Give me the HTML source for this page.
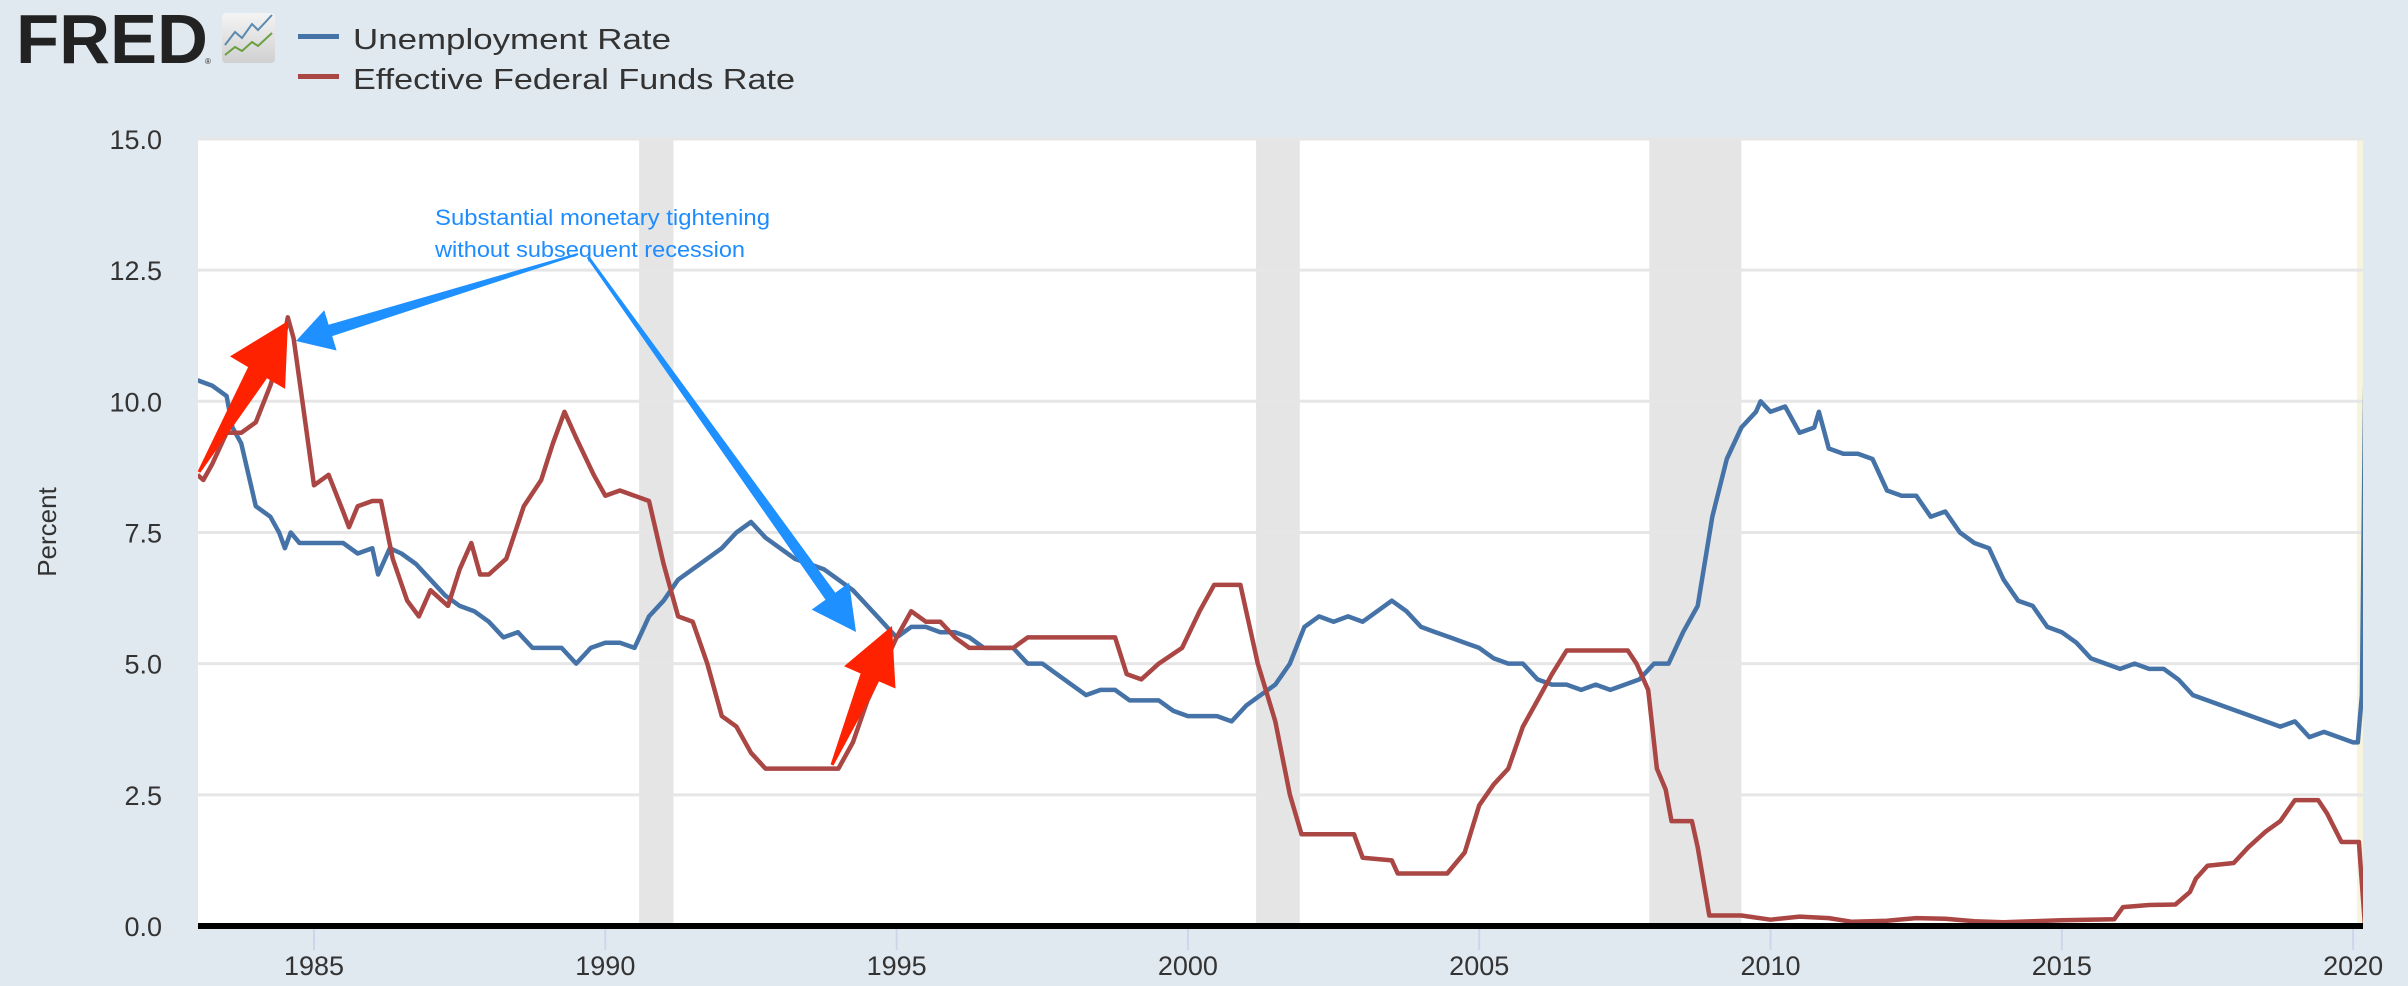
<!DOCTYPE html>
<html><head><meta charset="utf-8"><style>
html,body{margin:0;padding:0;background:#e1e9f0;}
svg{display:block;font-family:"Liberation Sans",sans-serif;}
</style></head><body>
<svg id="chart" width="2408" height="986" viewBox="0 0 2408 986">
<defs>
<clipPath id="plotclip"><rect x="198" y="138" width="2165" height="790"/></clipPath>
<linearGradient id="iconbg" x1="0" y1="0" x2="0" y2="1"><stop offset="0" stop-color="#f4f4f4"/><stop offset="1" stop-color="#d0d0d0"/></linearGradient>
</defs>
<rect x="0" y="0" width="2408" height="986" fill="#e1e9f0"/>
<g>
<text x="16" y="63" font-size="70" font-weight="bold" fill="#222" textLength="192" lengthAdjust="spacingAndGlyphs">FRED</text>
<text x="205" y="64" font-size="8" fill="#222">®</text>
<rect x="222" y="13" width="53" height="50" rx="4" fill="url(#iconbg)"/>
<polyline points="225,45 235,32 242,38 252,24 258,30 272,15" fill="none" stroke="#5a8ab0" stroke-width="2"/>
<polyline points="225,55 235,47 242,51 252,42 258,46 272,33" fill="none" stroke="#6aa040" stroke-width="2"/>
</g>
<g>
<rect x="298" y="34" width="41" height="5" fill="#4572a7"/>
<text x="353" y="49" font-size="29" fill="#333" textLength="318" lengthAdjust="spacingAndGlyphs">Unemployment Rate</text>
<rect x="298" y="74" width="41" height="5" fill="#aa4643"/>
<text x="353" y="89" font-size="29" fill="#333" textLength="442" lengthAdjust="spacingAndGlyphs">Effective Federal Funds Rate</text>
</g>
<rect x="198" y="138" width="2165" height="788" fill="#ffffff"/>
<g id="rec"></g>
<g id="grid"></g>
<g id="yticks"></g>
<g id="xticks"></g>
<text x="0" y="0" transform="translate(56,532) rotate(-90)" font-size="26" fill="#333" text-anchor="middle">Percent</text>
<g id="series" clip-path="url(#plotclip)"></g>
<rect x="198" y="923" width="2165" height="6" fill="#000"/>
<g id="annot">
<text x="435" y="225" font-size="22" fill="#1e8cff" textLength="335" lengthAdjust="spacingAndGlyphs">Substantial monetary tightening</text>
<text x="435" y="257" font-size="22" fill="#1e8cff" textLength="310" lengthAdjust="spacingAndGlyphs">without subsequent recession</text>
</g>
</svg>
<script>
const yTicks = [0, 2.5, 5, 7.5, 10, 12.5, 15];
const yTickLabels = ["0.0","2.5","5.0","7.5","10.0","12.5","15.0"];
const xTicks = [1985, 1990, 1995, 2000, 2005, 2010, 2015, 2020];
const recStart = [1990.58, 2001.17, 2007.92];
const recEnd = [1991.17, 2001.92, 2009.5];
const unrateDates = [1983.0,1983.25,1983.5,1983.6,1983.75,1984.0,1984.25,1984.4,1984.5,1984.6,1984.75,1985.0,1985.25,1985.5,1985.75,1986.0,1986.1,1986.3,1986.5,1986.75,1987.0,1987.25,1987.5,1987.75,1988.0,1988.25,1988.5,1988.75,1989.0,1989.25,1989.5,1989.75,1990.0,1990.25,1990.5,1990.75,1991.0,1991.25,1991.5,1991.75,1992.0,1992.25,1992.5,1992.75,1993.0,1993.25,1993.5,1993.75,1994.0,1994.25,1994.5,1994.75,1995.0,1995.25,1995.5,1995.75,1996.0,1996.25,1996.5,1996.75,1997.0,1997.25,1997.5,1997.75,1998.0,1998.25,1998.5,1998.75,1999.0,1999.25,1999.5,1999.75,2000.0,2000.25,2000.5,2000.75,2001.0,2001.25,2001.5,2001.75,2002.0,2002.25,2002.5,2002.75,2003.0,2003.25,2003.5,2003.75,2004.0,2004.25,2004.5,2004.75,2005.0,2005.25,2005.5,2005.75,2006.0,2006.25,2006.5,2006.75,2007.0,2007.25,2007.5,2007.75,2008.0,2008.25,2008.5,2008.75,2009.0,2009.25,2009.5,2009.75,2009.83,2010.0,2010.25,2010.5,2010.75,2010.83,2011.0,2011.25,2011.5,2011.75,2012.0,2012.25,2012.5,2012.75,2013.0,2013.25,2013.5,2013.75,2014.0,2014.25,2014.5,2014.75,2015.0,2015.25,2015.5,2015.75,2016.0,2016.25,2016.5,2016.75,2017.0,2017.25,2017.5,2017.75,2018.0,2018.25,2018.5,2018.75,2019.0,2019.25,2019.5,2019.75,2020.0,2020.08,2020.15,2020.25];
const unrateValues = [10.4,10.3,10.1,9.5,9.2,8.0,7.8,7.5,7.2,7.5,7.3,7.3,7.3,7.3,7.1,7.2,6.7,7.2,7.1,6.9,6.6,6.3,6.1,6.0,5.8,5.5,5.6,5.3,5.3,5.3,5.0,5.3,5.4,5.4,5.3,5.9,6.2,6.6,6.8,7.0,7.2,7.5,7.7,7.4,7.2,7.0,6.9,6.8,6.6,6.4,6.1,5.8,5.5,5.7,5.7,5.6,5.6,5.5,5.3,5.3,5.3,5.0,5.0,4.8,4.6,4.4,4.5,4.5,4.3,4.3,4.3,4.1,4.0,4.0,4.0,3.9,4.2,4.4,4.6,5.0,5.7,5.9,5.8,5.9,5.8,6.0,6.2,6.0,5.7,5.6,5.5,5.4,5.3,5.1,5.0,5.0,4.7,4.6,4.6,4.5,4.6,4.5,4.6,4.7,5.0,5.0,5.6,6.1,7.8,8.9,9.5,9.8,10.0,9.8,9.9,9.4,9.5,9.8,9.1,9.0,9.0,8.9,8.3,8.2,8.2,7.8,7.9,7.5,7.3,7.2,6.6,6.2,6.1,5.7,5.6,5.4,5.1,5.0,4.9,5.0,4.9,4.9,4.7,4.4,4.3,4.2,4.1,4.0,3.9,3.8,3.9,3.6,3.7,3.6,3.5,3.5,4.4,14.7];
const fedDates = [1983.0,1983.1,1983.25,1983.5,1983.75,1984.0,1984.25,1984.45,1984.55,1984.65,1984.8,1985.0,1985.25,1985.5,1985.6,1985.75,1986.0,1986.15,1986.35,1986.6,1986.8,1987.0,1987.3,1987.5,1987.7,1987.85,1988.0,1988.3,1988.6,1988.9,1989.1,1989.3,1989.5,1989.8,1990.0,1990.25,1990.5,1990.75,1991.0,1991.25,1991.5,1991.75,1992.0,1992.25,1992.5,1992.75,1993.0,1993.5,1993.75,1994.0,1994.25,1994.5,1994.75,1995.0,1995.25,1995.5,1995.75,1996.0,1996.25,1996.5,1997.0,1997.25,1997.5,1998.0,1998.5,1998.75,1998.95,1999.2,1999.5,1999.9,2000.2,2000.45,2000.9,2001.0,2001.2,2001.5,2001.75,2001.95,2002.5,2002.85,2003.0,2003.5,2003.6,2004.45,2004.75,2005.0,2005.25,2005.5,2005.75,2006.0,2006.25,2006.5,2007.0,2007.55,2007.7,2007.9,2008.05,2008.2,2008.3,2008.65,2008.75,2008.95,2009.25,2009.5,2010.0,2010.5,2011.0,2011.4,2012.0,2012.5,2013.0,2013.5,2014.0,2014.5,2015.0,2015.9,2016.05,2016.5,2016.95,2017.2,2017.3,2017.5,2017.95,2018.2,2018.5,2018.75,2019.0,2019.4,2019.55,2019.8,2020.1,2020.2];
const fedValues = [8.6,8.5,8.8,9.4,9.4,9.6,10.3,11.0,11.6,11.2,10.0,8.4,8.6,7.9,7.6,8.0,8.1,8.1,7.0,6.2,5.9,6.4,6.1,6.8,7.3,6.7,6.7,7.0,8.0,8.5,9.2,9.8,9.3,8.6,8.2,8.3,8.2,8.1,6.9,5.9,5.8,5.0,4.0,3.8,3.3,3.0,3.0,3.0,3.0,3.0,3.5,4.3,4.9,5.5,6.0,5.8,5.8,5.5,5.3,5.3,5.3,5.5,5.5,5.5,5.5,5.5,4.8,4.7,5.0,5.3,6.0,6.5,6.5,6.0,5.0,3.9,2.5,1.75,1.75,1.75,1.3,1.25,1.0,1.0,1.4,2.3,2.7,3.0,3.8,4.3,4.8,5.25,5.25,5.25,5.0,4.5,3.0,2.6,2.0,2.0,1.5,0.2,0.2,0.2,0.12,0.18,0.15,0.08,0.1,0.15,0.14,0.09,0.07,0.09,0.11,0.13,0.36,0.4,0.41,0.65,0.9,1.15,1.2,1.5,1.8,2.0,2.4,2.4,2.15,1.6,1.6,0.05];

const svg = document.getElementById('chart');
const NS = 'http://www.w3.org/2000/svg';
const X0 = 197.5, PXY = 58.26, Y0 = 926, PXV = 52.47;
function xs(t){ return X0 + (t - 1983) * PXY; }
function ys(v){ return Y0 - v * PXV; }
function mk(tag, attrs, parent){
  const e = document.createElementNS(NS, tag);
  for (const k in attrs) e.setAttribute(k, attrs[k]);
  parent.appendChild(e);
  return e;
}
const rec = document.getElementById('rec');
for (let i = 0; i < recStart.length; i++) {
  const r = mk('rect', {x: xs(recStart[i]), y: 138, width: xs(recEnd[i]) - xs(recStart[i]), height: 788, fill: '#e5e5e5'}, rec);
  
  
}
const yb = mk('rect', {x: 2357, y: 138, width: 6, height: 788, fill: '#f6f4dc'}, rec);



const grid = document.getElementById('grid');
const yt = document.getElementById('yticks');
yTicks.forEach((v, i) => {
  if (v > 0) {
    const g = mk('line', {x1: 198, x2: 2363, y1: ys(v), y2: ys(v), stroke: '#e6e6e6', 'stroke-width': 3}, grid);
    
    
  }
  const t = mk('text', {x: 162, y: ys(v) + 10, 'font-size': 27, fill: '#333', 'text-anchor': 'end'}, yt);
  t.textContent = yTickLabels[i];
  
  
});
const xt = document.getElementById('xticks');
xTicks.forEach(yr => {
  const l = mk('line', {x1: xs(yr), x2: xs(yr), y1: 929, y2: 950, stroke: '#ccd6eb', 'stroke-width': 2}, xt);
  
  
  const t = mk('text', {x: xs(yr), y: 975, 'font-size': 27, fill: '#333', 'text-anchor': 'middle'}, xt);
  t.textContent = String(yr);
  
  
});
const series = document.getElementById('series');
function pts(d, v){ return d.map((t, i) => xs(t).toFixed(1) + ',' + ys(v[i]).toFixed(1)).join(' '); }
const lu = mk('polyline', {points: pts(unrateDates, unrateValues), fill: 'none', stroke: '#4572a7', 'stroke-width': 4.5, 'stroke-linejoin': 'round'}, series);


const lf = mk('polyline', {points: pts(fedDates, fedValues), fill: 'none', stroke: '#aa4643', 'stroke-width': 4.5, 'stroke-linejoin': 'round'}, series);



function arrow(tx, ty, hx, hy, w0, w1, headW, headL, color, name){
  const dx = hx - tx, dy = hy - ty, L = Math.hypot(dx, dy);
  const ux = dx / L, uy = dy / L, nx = -uy, ny = ux;
  const bx = hx - ux * headL, by = hy - uy * headL;
  const p = [
    [tx + nx * w0 / 2, ty + ny * w0 / 2],
    [bx + nx * w1 / 2, by + ny * w1 / 2],
    [bx + nx * headW / 2, by + ny * headW / 2],
    [hx, hy],
    [bx - nx * headW / 2, by - ny * headW / 2],
    [bx - nx * w1 / 2, by - ny * w1 / 2],
    [tx - nx * w0 / 2, ty - ny * w0 / 2]
  ].map(q => q[0].toFixed(1) + ',' + q[1].toFixed(1)).join(' ');
  const a = mk('polygon', {points: p, fill: color}, document.getElementById('annot'));
  
  
}
arrow(578, 254, 296, 341, 2, 12, 42, 36, '#1e90ff', 'blue-arrow-1984');
arrow(588, 257, 856, 632, 3, 12, 46, 44, '#1e90ff', 'blue-arrow-1994');
arrow(199, 472, 288, 321, 3, 22, 64, 60, '#ff2200', 'red-arrow-1984');
arrow(832, 765, 892, 626, 3, 20, 56, 56, '#ff2200', 'red-arrow-1994');
</script>
</body></html>
